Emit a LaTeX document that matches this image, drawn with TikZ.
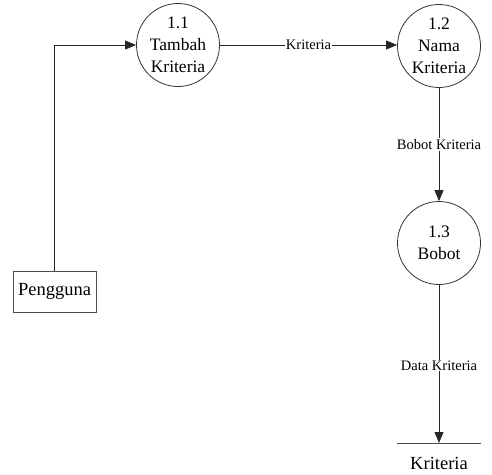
\documentclass[tikz,border=0pt]{standalone}
\usepackage{fontspec}
\setmainfont{Liberation Serif}
\usetikzlibrary{arrows.meta}
\begin{document}
\begin{tikzpicture}[x=1pt,y=-1pt,
  proc/.style={circle,draw=black!80,line width=0.8pt,minimum size=83pt,inner sep=0pt,
    align=center,font=\rmfamily\fontsize{17.5}{22}\selectfont},
  ext/.style={draw=black!70,line width=0.9pt,minimum width=83pt,minimum height=41pt,inner sep=0pt,
    font=\rmfamily\fontsize{18.5}{20}\selectfont},
  flow/.style={draw=black!85,line width=0.8pt,-{Triangle[length=11pt,width=9pt]}},
  flowlabel/.style={fill=white,inner sep=1pt,font=\rmfamily\fontsize{14.5}{16}\selectfont},
  storelbl/.style={inner sep=0pt,font=\rmfamily\fontsize{18.5}{20}\selectfont}]
  \useasboundingbox (0,0) rectangle (492,474);

  % processes
  \node[proc] (p11) at (178,45) {1.1\\Tambah\\Kriteria};
  \node[proc] (p12) at (439,46) {1.2\\Nama\\Kriteria};
  \node[proc] (p13) at (439,243) {1.3\\Bobot};

  % external entity
  \node[ext] (user) at (54.5,291.5) {Pengguna};

  % data store
  \coordinate (sl) at (397,443);
  \coordinate (sr) at (481,443);
  \coordinate (sm) at (439,443);
  \draw[draw=black!70,line width=0.9pt] (sl) -- (sr);
  \node[storelbl] (store) at (439,463) {Kriteria};

  % flows
  \coordinate (bend) at (54.5,45);
  \draw[flow] (user.north) -- (bend) -- (p11.west);
  \draw[flow] (p11.east) -- node[flowlabel,pos=0.5] {Kriteria} (p12.west |- p11.east);
  \draw[flow] (p12.south) -- node[flowlabel,pos=0.5] {Bobot Kriteria} (p13.north);
  \draw[flow] (p13.south) -- node[flowlabel,pos=0.51] {Data Kriteria} (sm);
\end{tikzpicture}
\end{document}
